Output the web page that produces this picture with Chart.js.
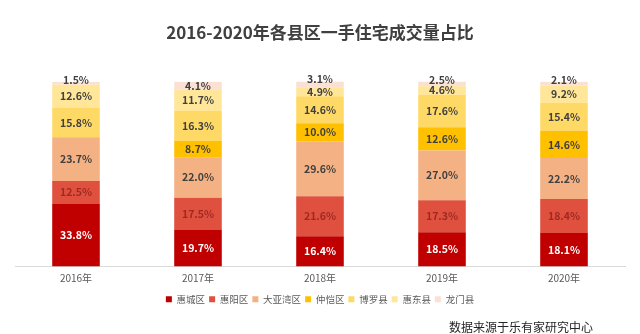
<!DOCTYPE html>
<html>
<head>
<meta charset="utf-8">
<script src="https://cdn.jsdelivr.net/npm/chart.js@4"></script>
<style>
  html, body { margin: 0; padding: 0; background: #fff; }
  #wrap { width: 640px; height: 334px; position: relative; }
</style>
</head>
<body>
<div id="wrap"><canvas id="chart"></canvas></div>
<script>
// 年份
const years = ['2016年', '2017年', '2018年', '2019年', '2020年'];

// 各县区占比 (%)，由下往上
const huicheng = [33.8, 19.7, 16.4, 18.5, 18.1];
const huiyang = [12.5, 17.5, 21.6, 17.3, 18.4];
const dayawan = [23.7, 22.0, 29.6, 27.0, 22.2];
const zhongkai = [0, 8.7, 10.0, 12.6, 14.6];
const boluo = [15.8, 16.3, 14.6, 17.6, 15.4];
const huidong = [12.6, 11.7, 4.9, 4.6, 9.2];
const longmen = [1.5, 4.1, 3.1, 2.5, 2.1];

const seriesNames = ['惠城区', '惠阳区', '大亚湾区', '仲恺区', '博罗县', '惠东县', '龙门县'];
const seriesData = [huicheng, huiyang, dayawan, zhongkai, boluo, huidong, longmen];
const seriesColors = ['#C00000', '#E0503E', '#F4B183', '#FFC000', '#FFD966', '#FFE699', '#FBE0D4'];
const labelColors = ['#FFFFFF', '#9E2A22', '#404040', '#404040', '#404040', '#404040', '#404040'];

const FONT = '"Noto Sans CJK SC", "Noto Sans", sans-serif';

// 在每段中间写百分比
const valueLabels = {
  id: 'valueLabels',
  afterDatasetsDraw(chart){
    const ctx = chart.ctx;
    ctx.save();
    ctx.font = 'bold 10.5px ' + FONT;
    ctx.textAlign = 'center';
    ctx.textBaseline = 'middle';
    chart.data.datasets.forEach((ds, i) => {
      const meta = chart.getDatasetMeta(i);
      meta.data.forEach((bar, j) => {
        const v = ds.data[j];
        if(!v) return;
        let y = (bar.y + bar.base) / 2;
        if(v < 3.5) y = bar.y - 2; // 太小的放在顶上
        ctx.fillStyle = labelColors[i];
        ctx.fillText(v.toFixed(1) + '%', bar.x, y);
      });
    });
    ctx.restore();
  }
};

// 数据来源
const sourceNote = {
  id: 'sourceNote',
  afterDraw(chart){
    const ctx = chart.ctx;
    ctx.save();
    ctx.font = '12px ' + FONT;
    ctx.fillStyle = '#262626';
    ctx.textAlign = 'right';
    ctx.textBaseline = 'middle';
    ctx.fillText('数据来源于乐有家研究中心', 593, 327);
    ctx.restore();
  }
};

new Chart(document.getElementById('chart'), {
  type: 'bar',
  data: {
    labels: years,
    datasets: seriesNames.map((name, i) => ({
      label: name,
      data: seriesData[i],
      backgroundColor: seriesColors[i],
      borderWidth: 0,
      categoryPercentage: 1,
      barPercentage: 0.39
    }))
  },
  options: {
    responsive: true,
    maintainAspectRatio: false,
    animation: false,
    layout: { padding: { left: 15, right: 15, top: 0, bottom: 20 } },
    scales: {
      x: {
        stacked: true,
        grid: { display: false, drawTicks: false },
        border: { color: '#D9D9D9' },
        ticks: { color: '#595959', font: { family: FONT, size: 10 }, padding: 6 }
      },
      y: { stacked: true, display: false, min: 0, max: 100.2 }
    },
    plugins: {
      title: {
        display: true,
        text: '2016-2020年各县区一手住宅成交量占比',
        color: '#404040',
        font: { family: FONT, size: 17, weight: 'bold' },
        padding: { top: 22, bottom: 39 }
      },
      legend: {
        position: 'bottom',
        labels: {
          boxWidth: 6,
          boxHeight: 6,
          padding: 4,
          color: '#595959',
          font: { family: FONT, size: 9.5 }
        }
      },
      tooltip: { enabled: false }
    }
  },
  plugins: [valueLabels, sourceNote]
});
</script>
</body>
</html>
